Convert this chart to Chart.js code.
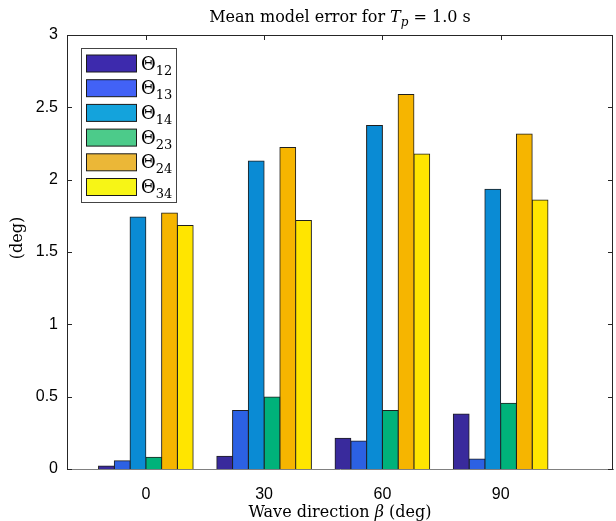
<!DOCTYPE html>
<html>
<head>
<meta charset="utf-8">
<script src="https://cdn.jsdelivr.net/npm/chart.js@4"></script>
<style>
  body { margin: 0; background: #fff; }
  #wrap { width: 616px; height: 521px; }
</style>
</head>
<body>
<div id="wrap"><canvas id="errChart" width="616" height="521"></canvas></div>
<script>
// Wave directions (deg)
const directions = [0, 30, 60, 90];

// Mean model error per pair (deg)
const theta12 = [0.020, 0.088, 0.212, 0.380];
const theta13 = [0.057, 0.405, 0.193, 0.069];
const theta14 = [1.742, 2.129, 2.374, 1.934];
const theta23 = [0.081, 0.497, 0.405, 0.454];
const theta24 = [1.770, 2.222, 2.588, 2.316];
const theta34 = [1.683, 1.717, 2.178, 1.860];

const pairNames = ['12', '13', '14', '23', '24', '34'];
const yTicks = [0, 0.5, 1, 1.5, 2, 2.5, 3];

// parula-ish colours, legend swatches come out a bit lighter in the original
const barColors = ['#392a9c', '#2c61e3', '#0a8bd4', '#00b27a', '#f6b500', '#ffe500'];
const legendColors = ['#3d2aad', '#4262f6', '#14a3dc', '#4ccb8a', '#ebb737', '#f7f516'];

const seriesValues = [theta12, theta13, theta14, theta23, theta24, theta34];

const serif = '"DejaVu Serif", "Liberation Serif", serif';

// Helper: draw a run of text pieces, some italic / subscript
function drawRuns(ctx, runs, cx, baseline) {
  const fontFor = r => (r.italic ? 'italic ' : '') + (r.sub ? '12px ' : '16px ') + serif;
  let total = 0;
  runs.forEach(r => { ctx.font = fontFor(r); total += ctx.measureText(r.t).width; });
  let x = cx - total / 2;
  ctx.textAlign = 'left';
  ctx.textBaseline = 'alphabetic';
  runs.forEach(r => {
    ctx.font = fontFor(r);
    ctx.fillText(r.t, x, baseline + (r.sub ? 4 : 0));
    x += ctx.measureText(r.t).width;
  });
}

// MATLAB style box, inward ticks, legend and labels
const matlabFrame = {
  id: 'matlabFrame',
  beforeDatasetsDraw(chart) {
    const { ctx, chartArea: a, scales } = chart;
    ctx.save();
    ctx.strokeStyle = '#262626';
    ctx.lineWidth = 1;
    ctx.beginPath();
    ctx.moveTo(a.left, a.top + 0.5); ctx.lineTo(a.right, a.top + 0.5);
    ctx.moveTo(a.right - 0.5, a.top); ctx.lineTo(a.right - 0.5, a.bottom);
    yTicks.forEach(v => {
      const y = Math.round(scales.y.getPixelForValue(v)) + 0.5;
      ctx.moveTo(a.left, y); ctx.lineTo(a.left + 5, y);
      ctx.moveTo(a.right, y); ctx.lineTo(a.right - 5, y);
    });
    directions.forEach(v => {
      const x = Math.round(scales.x.getPixelForValue(v)) + 0.5;
      ctx.moveTo(x, a.top); ctx.lineTo(x, a.top + 5);
      ctx.moveTo(x, a.bottom); ctx.lineTo(x, a.bottom - 5);
    });
    ctx.stroke();
    ctx.restore();
  },
  afterDraw(chart) {
    const { ctx, chartArea: a } = chart;
    ctx.save();
    ctx.fillStyle = '#000';
    const cx = (a.left + a.right) / 2;

    // Title
    drawRuns(ctx, [
      { t: 'Mean model error for ' },
      { t: 'T', italic: true },
      { t: 'p', italic: true, sub: true },
      { t: ' = 1.0 s' }
    ], cx, 22);

    // x axis title
    drawRuns(ctx, [
      { t: 'Wave direction ' },
      { t: 'β', italic: true },
      { t: ' (deg)' }
    ], cx, 517);

    // y axis title
    ctx.save();
    ctx.translate(22, 238);
    ctx.rotate(-Math.PI / 2);
    ctx.font = '16px ' + serif;
    ctx.textAlign = 'center';
    ctx.fillText('(deg)', 0, 0);
    ctx.restore();

    // Legend
    const lx = 81, ly = 48, lw = 95, lh = 154;
    ctx.fillStyle = '#fff';
    ctx.fillRect(lx, ly, lw, lh);
    ctx.strokeStyle = '#444';
    ctx.lineWidth = 1;
    ctx.strokeRect(lx + 0.5, ly + 0.5, lw, lh);
    pairNames.forEach((name, i) => {
      const cy = 63.5 + i * 24.7;
      ctx.fillStyle = legendColors[i];
      ctx.fillRect(86.5, cy - 8.5, 50, 17);
      ctx.strokeStyle = '#1a1a1a';
      ctx.strokeRect(86.5, cy - 8.5, 50, 17);
      ctx.fillStyle = '#000';
      ctx.textAlign = 'left';
      ctx.font = '18px ' + serif;
      ctx.fillText('Θ', 141, cy + 6);
      const w = ctx.measureText('Θ').width;
      ctx.font = '13px ' + serif;
      ctx.fillText(name, 141 + w, cy + 11);
    });
    ctx.restore();
  }
};

new Chart(document.getElementById('errChart'), {
  type: 'bar',
  data: {
    datasets: seriesValues.map((vals, i) => ({
      label: 'Θ' + pairNames[i],
      data: vals.map((v, j) => ({ x: directions[j], y: v })),
      backgroundColor: barColors[i],
      borderColor: '#1f1f1f',
      borderWidth: 1,
      borderSkipped: 'bottom',
      inflateAmount: 0.5,
      categoryPercentage: 0.8,
      barPercentage: 1.0
    }))
  },
  options: {
    responsive: false,
    animation: false,
    layout: { padding: { top: 35, right: 3, left: 0, bottom: 0 } },
    plugins: {
      legend: { display: false },
      title: { display: false },
      tooltip: { enabled: false }
    },
    scales: {
      x: {
        type: 'linear',
        offset: false,
        min: -20,
        max: 118.5,
        afterBuildTicks: axis => { axis.ticks = directions.map(v => ({ value: v })); },
        afterFit: axis => { axis.height = 52; },
        grid: { display: false, drawTicks: false, offset: false },
        border: { display: true, color: '#808080', width: 1 },
        ticks: { color: '#000', padding: 16, callback: v => String(v), font: { family: '"Liberation Sans", Arial, sans-serif', size: 16 } }
      },
      y: {
        min: 0,
        max: 3,
        afterBuildTicks: axis => { axis.ticks = yTicks.map(v => ({ value: v })); },
        afterFit: axis => { axis.width = 67; },
        grid: { display: false, drawTicks: false },
        border: { display: true, color: '#262626', width: 1 },
        ticks: { color: '#000', padding: 9, callback: v => String(v), font: { family: '"Liberation Sans", Arial, sans-serif', size: 16 } }
      }
    }
  },
  plugins: [matlabFrame]
});
</script>
</body>
</html>
